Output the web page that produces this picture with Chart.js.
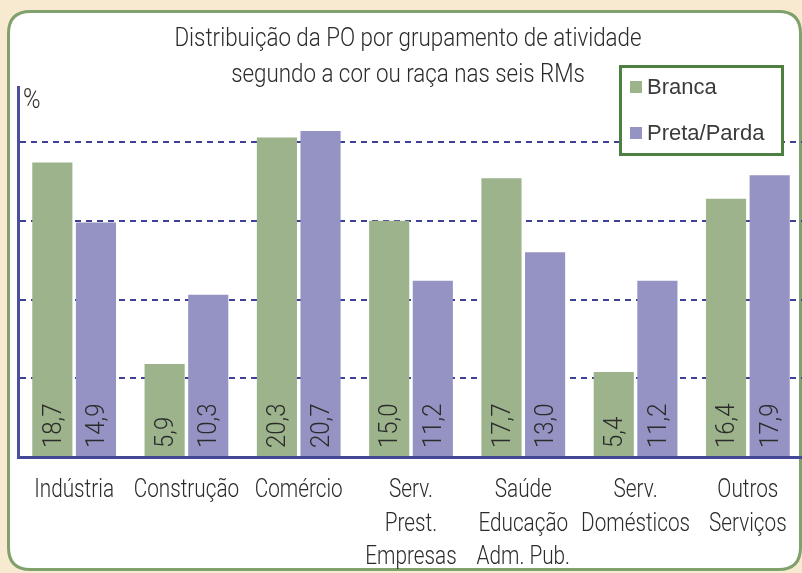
<!DOCTYPE html>
<html>
<head>
<meta charset="utf-8">
<script src="https://cdn.jsdelivr.net/npm/chart.js@4.4.1/dist/chart.umd.min.js"></script>
<style>
html,body{margin:0;padding:0;overflow:hidden;background:#f8ead0;width:802px;height:573px;}
canvas{display:block;}
</style>
</head>
<body>
<canvas id="c" width="810" height="573" style="width:810px;height:573px"></canvas>
<script>
const categories = [
  "Indústria",
  "Construção",
  "Comércio",
  ["Serv.", "Prest.", "Empresas"],
  ["Saúde", "Educação", "Adm. Pub."],
  ["Serv.", "Domésticos"],
  ["Outros", "Serviços"]
];
const seriesNames = ["Branca", "Preta/Parda"];
const branca = [18.7, 5.9, 20.3, 15.0, 17.7, 5.4, 16.4];
const pretaParda = [14.9, 10.3, 20.7, 11.2, 13.0, 11.2, 17.9];
const titleLines = ["Distribuição da PO por grupamento de atividade", "segundo a cor ou raça nas seis RMs"];
const unitLabel = "%";

const GREEN = "#9db38b";
const PURPLE = "#9593c3";
const AXIS = "#444896";
const TEXT = "#2b2b2b";
const LIGHT = "Roboto, 'Liberation Sans', Arial, sans-serif";
const REG = "'Liberation Sans', Arial, sans-serif";

function rr(ctx, x, y, w, h, r) {
  ctx.beginPath();
  ctx.moveTo(x + r, y);
  ctx.lineTo(x + w - r, y);
  ctx.quadraticCurveTo(x + w, y, x + w, y + r);
  ctx.lineTo(x + w, y + h - r);
  ctx.quadraticCurveTo(x + w, y + h, x + w - r, y + h);
  ctx.lineTo(x + r, y + h);
  ctx.quadraticCurveTo(x, y + h, x, y + h - r);
  ctx.lineTo(x, y + r);
  ctx.quadraticCurveTo(x, y, x + r, y);
  ctx.closePath();
}

function condensedText(ctx, txt, x, y, align, sx) {
  ctx.save();
  ctx.translate(x, y);
  ctx.scale(sx, 1);
  ctx.textAlign = align;
  ctx.fillText(txt, 0, 0);
  ctx.restore();
}

const framePlugin = {
  id: 'frame',
  beforeDraw(chart) {
    const ctx = chart.ctx;
    ctx.save();
    ctx.fillStyle = "#f8ead0";
    ctx.fillRect(0, 0, chart.width, chart.height);
    rr(ctx, 8.5, 11.5, 792, 558, 22);
    ctx.fillStyle = "#ffffff";
    ctx.fill();
    ctx.lineWidth = 3;
    ctx.strokeStyle = "#80a06c";
    ctx.stroke();
    ctx.restore();
  },
  afterDatasetsDraw(chart) {
    const ctx = chart.ctx;
    ctx.save();
    ctx.fillStyle = TEXT;
    ctx.font = "300 25px " + LIGHT;
    ctx.textBaseline = "middle";
    chart.data.datasets.forEach((ds, di) => {
      const meta = chart.getDatasetMeta(di);
      meta.data.forEach((el, i) => {
        const txt = ds.data[i].toFixed(1).replace(".", ",");
        ctx.save();
        ctx.translate(el.x + 2, chart.chartArea.bottom - 9);
        ctx.rotate(-Math.PI / 2);
        condensedText(ctx, txt, 0, 0, "left", 0.96);
        ctx.restore();
      });
    });
    ctx.restore();
  },
  afterDraw(chart) {
    const ctx = chart.ctx;
    ctx.save();
    ctx.fillStyle = TEXT;
    ctx.textBaseline = "middle";
    // category labels
    ctx.font = "300 25px " + LIGHT;
    const xs = chart.scales.x;
    chart.data.labels.forEach((lab, i) => {
      const lines = Array.isArray(lab) ? lab : [lab];
      const x = xs.getPixelForValue(i);
      lines.forEach((ln, k) => condensedText(ctx, ln, x, 491 + k * 33.5, "center", 0.83));
    });
    // title
    ctx.font = "300 26px " + LIGHT;
    condensedText(ctx, titleLines[0], 408, 39, "center", 0.86);
    condensedText(ctx, titleLines[1], 408, 75, "center", 0.86);
    // unit
    ctx.font = "300 27px " + LIGHT;
    condensedText(ctx, unitLabel, 23, 101, "left", 0.88);
    // legend
    ctx.fillStyle = "#ffffff";
    ctx.fillRect(620, 66, 163, 89);
    ctx.lineWidth = 3;
    ctx.strokeStyle = "#4d8040";
    ctx.strokeRect(620.5, 66.5, 162, 88);
    ctx.font = "22px " + REG;
    ctx.textAlign = "left";
    const ys = [87, 133];
    chart.data.datasets.forEach((ds, di) => {
      ctx.fillStyle = ds.backgroundColor;
      ctx.fillRect(630, ys[di] - 6, 12, 12);
      ctx.fillStyle = "#3a3a3a";
      ctx.fillText(ds.label, 647, ys[di] + 1);
    });
    ctx.restore();
  }
};

new Chart(document.getElementById('c'), {
  type: 'bar',
  data: {
    labels: categories,
    datasets: [
      { label: seriesNames[0], data: branca, backgroundColor: GREEN },
      { label: seriesNames[1], data: pretaParda, backgroundColor: PURPLE }
    ]
  },
  options: {
    responsive: false,
    animation: false,
    devicePixelRatio: 1,
    layout: { padding: { top: 87, left: 18, right: 6, bottom: 0 } },
    categoryPercentage: 0.777,
    barPercentage: 0.92,
    plugins: { legend: { display: false }, title: { display: false }, tooltip: { enabled: false } },
    scales: {
      x: {
        grid: { display: false, drawTicks: false },
        border: { display: true, color: AXIS, width: 3 },
        ticks: { display: false },
        afterFit(scale) { scale.height = 116; }
      },
      y: {
        min: 0,
        max: 23.5,
        ticks: { display: false, stepSize: 5 },
        grid: {
          drawTicks: false,
          lineWidth: 2,
          color: (ctx) => (ctx.tick && (ctx.tick.value === 0 || ctx.tick.value % 5 !== 0)) ? 'rgba(0,0,0,0)' : '#3d4094'
        },
        border: { display: true, color: "#4b4f9c", width: 3, dash: [6, 5] },
        afterFit(scale) { scale.width = 0; }
      }
    }
  },
  plugins: [framePlugin]
});
</script>
</body>
</html>
